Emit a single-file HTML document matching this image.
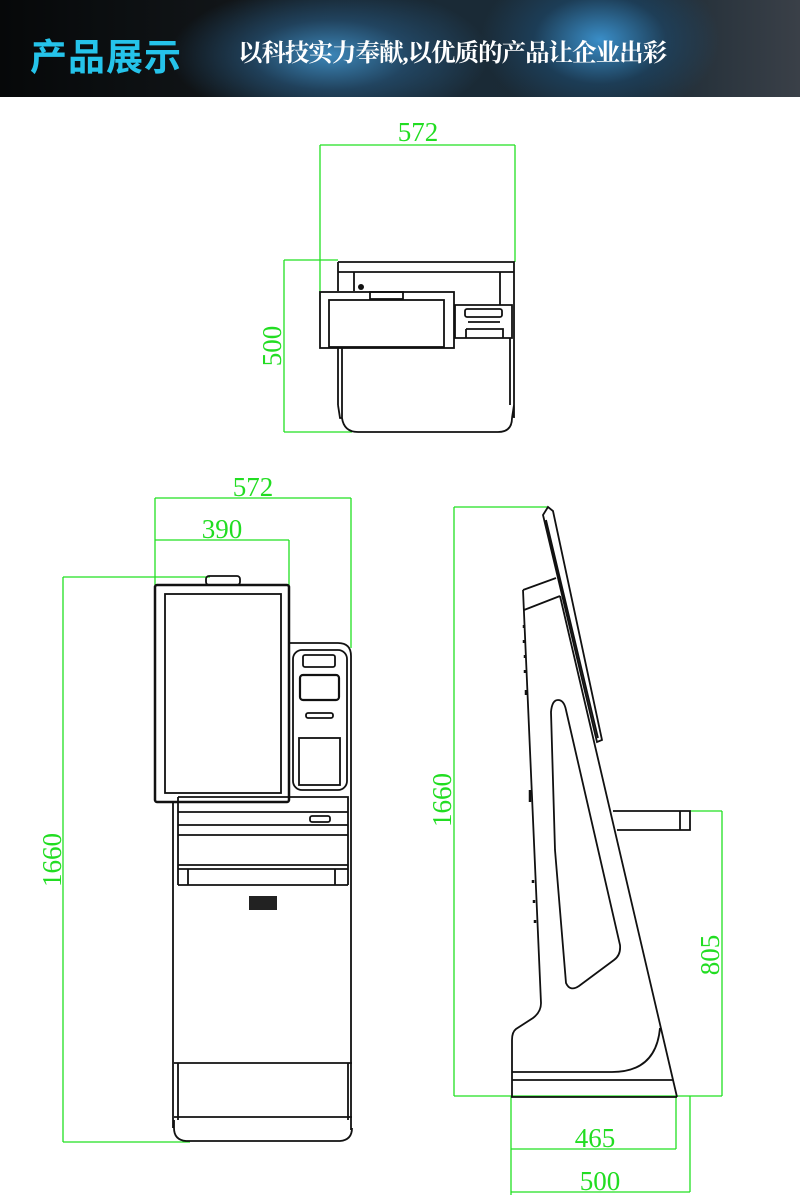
<!DOCTYPE html>
<html><head><meta charset="utf-8"><style>
body{margin:0;width:800px;height:1202px;background:#fff;overflow:hidden;position:relative}
.hd{position:absolute;left:0;top:0;width:800px;height:97px;background:radial-gradient(ellipse 160px 70px at 330px 55px,#3c86b8 0%,rgba(40,90,130,0.6) 50%,rgba(0,0,0,0) 100%),radial-gradient(ellipse 120px 80px at 600px 40px,#3a8ec8 0%,rgba(30,80,120,0.5) 55%,rgba(0,0,0,0) 100%),linear-gradient(90deg,#060809 0%,#121619 30%,#1a2a36 55%,#1c2a34 80%,#3a4048 100%)}
.t1{position:absolute;left:30px;top:27px;font:bold 37px "Noto Sans CJK SC",sans-serif;color:#25c3ea;letter-spacing:1px}
.t2{position:absolute;left:238px;top:34px;font:bold 24.5px "Liberation Serif","Noto Serif CJK SC",serif;color:#fff;letter-spacing:-1px}
svg{position:absolute;left:0;top:0}
.g{stroke:#22e022;stroke-width:1.3;fill:none}
.k{stroke:#111;stroke-width:1.8;fill:none}
.d{font-family:"Liberation Serif",serif;font-size:27px;fill:#22dd22}
</style></head><body>
<div class="hd"></div>
<div class="t1">产品展示</div>
<div class="t2">以科技实力奉献,以优质的产品让企业出彩</div>
<svg width="800" height="1202" viewBox="0 0 800 1202">
<path class="g" d="M320,145H515M320,145V300M515,145V262M284,260V432M284,260H338M284,432H352"/>
<text class="d" x="418" y="141" text-anchor="middle">572</text>
<text class="d" transform="translate(281,346) rotate(-90)" text-anchor="middle">500</text>
<path class="k" d="M338,262H514V305M338,262V291M338,272H514M354,272V291M500,272V305"/>
<circle cx="361" cy="287" r="3" fill="#111"/>
<rect class="k" x="320" y="292" width="134" height="56"/>
<rect class="k" x="329" y="300" width="115" height="47"/>
<rect class="k" x="370" y="292" width="33" height="7"/>
<path class="k" d="M455,305H512V338H455Z"/>
<rect class="k" x="465" y="309" width="37" height="8" rx="2"/>
<path class="k" d="M468,322H500M466,329H503V338M466,329V338"/>
<path class="k" d="M338,348V405M342,348V418M510,338V405M514,305V418M342,418Q344,432 358,432H498Q512,432 512,418M338,405L340,418L342,418M514,405L512,418"/>
<path class="g" d="M155,498H351M155,498V585M351,498V648M155,540H289M289,540V640M63,577V1142M63,577H210M63,1142H190"/>
<text class="d" x="253" y="496" text-anchor="middle">572</text>
<text class="d" x="222" y="538" text-anchor="middle">390</text>
<text class="d" transform="translate(61,860) rotate(-90)" text-anchor="middle">1660</text>
<rect class="k" x="206" y="576" width="34" height="9" rx="3"/>
<rect x="155" y="585" width="134" height="217" rx="2" fill="none" stroke="#111" stroke-width="2.5"/>
<rect class="k" x="165" y="594" width="116" height="199"/>
<path class="k" d="M289,643H338Q351,643 351,656V1130"/>
<rect class="k" x="293" y="650" width="54" height="140" rx="9"/>
<rect class="k" x="303" y="655" width="32" height="12" rx="2"/>
<rect x="300" y="675" width="39" height="25" rx="3" fill="none" stroke="#111" stroke-width="2.2"/>
<rect class="k" x="306" y="713" width="27" height="5" rx="2"/>
<rect class="k" x="299" y="738" width="41" height="47"/>
<path class="k" d="M173,802V1128M178,797H348V885M178,797V885M178,812H348M178,825H348M178,835H348M178,865H348M178,869H348M178,885H348M188,869V885M335,869V885"/>
<rect class="k" x="310" y="816" width="20" height="6" rx="2"/>
<rect x="249" y="896" width="28" height="14" fill="#222"/>
<path class="k" d="M174,1063H352M178,1063V1120M348,1063V1120M174,1117H352M174,1120V1128Q174,1140 186,1141H340Q352,1140 352,1128"/>
<path class="g" d="M454,507V1096M454,507H548M454,1096H722M722,811V1096M690,811H722M511,1096V1195M676,1096V1149M511,1149H676M511,1192H690M690,1096V1192"/>
<text class="d" transform="translate(451,800) rotate(-90)" text-anchor="middle">1660</text>
<text class="d" transform="translate(719,955) rotate(-90)" text-anchor="middle">805</text>
<text class="d" x="595" y="1147" text-anchor="middle">465</text>
<text class="d" x="600" y="1190" text-anchor="middle">500</text>
<path class="k" d="M543,515L548,507L553,511L602,740L597,742Z M546,520L598,738"/>
<path class="k" d="M523,590L556,578M524,610L560,596M523,590L541,1003Q541,1012 533,1018L516,1029Q512,1032 512,1040V1097"/>
<path class="k" d="M560,596L677,1097"/>
<path class="k" d="M551,712Q552,700 558,700Q564,700 566,710L620,945Q621,955 614,960L579,986Q570,992 566,983L555,850Z"/>
<path class="k" d="M660,1028Q656,1072 612,1072H512M512,1080H673M511,1097H677"/>
<path class="k" d="M613,811H690V830H617M680,811V830"/>
<path stroke="#111" stroke-width="2.5" d="M524,625v3M524,640v3M525,655v3M525,670v3M526,690v5M530,790v12M533,880v3M534,900v3M535,920v3"/>
</svg>
</body></html>
